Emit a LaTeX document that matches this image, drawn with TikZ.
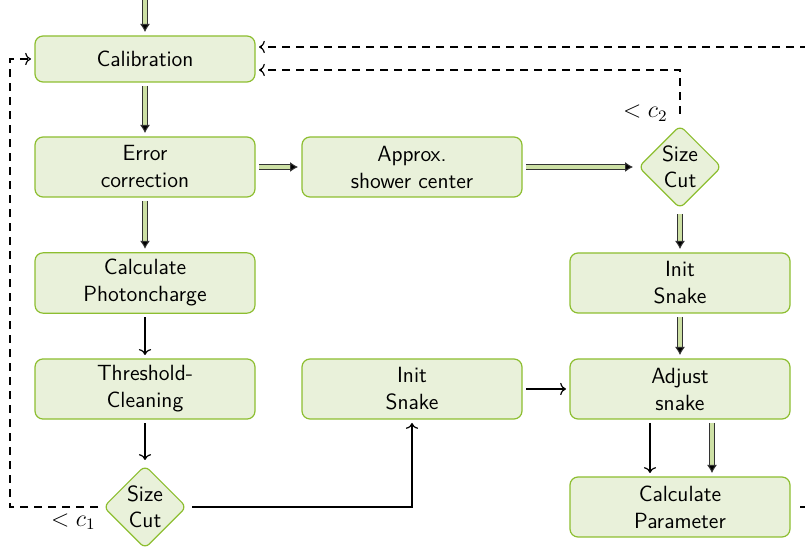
\documentclass[tikz,border=0pt]{standalone}
\usepackage{amsmath,amssymb}
\usepackage{tikz}
\usetikzlibrary{positioning,%
  arrows.meta,%
  shapes.geometric,%
  calc
}

\definecolor{boxfill}{RGB}{233,241,218}
\definecolor{boxline}{RGB}{141,190,48}
\definecolor{pipefill}{RGB}{205,224,165}

\tikzset{
  stage/.style={draw=boxline, fill=boxfill, rounded corners=4pt, semithick,
    minimum width=110pt, minimum height=30pt, align=center,
    font={\sffamily\fontsize{11}{13.5}\selectfont}, outer sep=2pt},
  cutbox/.style={diamond, draw=boxline, fill=boxfill, rounded corners=3pt, semithick,
    minimum width=43pt, minimum height=43pt, inner sep=0pt, align=center,
    font={\sffamily\fontsize{11}{13}\selectfont}, outer sep=2pt},
  pipe/.style={draw=black!80, line width=0.5pt, double=pipefill, double distance=2pt,
    -{Latex[length=4pt,width=5pt,fill=black]}},
  flow/.style={semithick, ->},
  loopback/.style={semithick, dash pattern=on 4pt off 3pt, ->},
  cutlabel/.style={inner sep=1pt, font=\fontsize{11.5}{14}\selectfont}
}

\begin{document}
\begin{tikzpicture}[x=0.5pt, y=-0.5pt]
            \useasboundingbox (0,0) rectangle (805,549);
            \clip (0,0) rectangle (805,549);

            % left column
            \node [stage, minimum height=23pt] (calib) at (145,59) {Calibration};
            \node [stage] (errcorr) at (145,167) {Error\\correction};
            \node [stage] (photon) at (145,283) {Calculate\\Photoncharge};
            \node [stage] (clean) at (145,389) {Threshold-\\Cleaning};
            \node [cutbox] (cutlow) at (145,507) {Size\\Cut};

            % middle column
            \node [stage] (approx) at (412,167) {Approx.\\shower center};
            \node [stage] (initlow) at (412,389) {Init\\Snake};

            % right column
            \node [cutbox] (cuthigh) at (680,167) {Size\\Cut};
            \node [stage] (inithigh) at (680,283) {Init\\Snake};
            \node [stage] (adjust) at (680,389) {Adjust\\snake};
            \node [stage] (calcpar) at (680,507) {Calculate\\Parameter};

            \coordinate (entry) at (145,-10);

            % main flow
            \draw [pipe] (entry) -- (calib);
            \draw [pipe] (calib) -- (errcorr);
            \draw [pipe] (errcorr) -- (photon);
            \draw [flow] (photon) -- (clean);
            \draw [flow] (clean) -- (cutlow);
            \draw [semithick, ->] (cutlow.east) -| (initlow.south);
            \draw [pipe] (errcorr) -- (approx);
            \draw [pipe] (approx) -- (cuthigh);
            \draw [pipe] (cuthigh) -- (inithigh);
            \draw [pipe] (inithigh) -- (adjust);
            \draw [flow] (initlow) -- (adjust);
            \draw [flow] (adjust.south -| 650,0) -- (calcpar.north -| 650,0);
            \draw [pipe] (adjust.south -| 712,0) -- (calcpar.north -| 712,0);

            % feedback loops
            \draw [loopback] (cutlow.west) -- (10,507) |- (calib.west);
            \node [cutlabel, below left=2pt and 0pt of cutlow.west] (lblone) {$<c_1$};
            \draw [loopback] ([yshift=3pt]cuthigh.north) |- ([yshift=-5.5pt]calib.east);
            \node [cutlabel, above left=-2pt and 5pt of cuthigh.north] (lbltwo) {$<c_2$};
            \draw [loopback] ([xshift=3pt]calcpar.east) -- (840,507) |- ([yshift=6pt]calib.east);
        \end{tikzpicture}
\end{document}
